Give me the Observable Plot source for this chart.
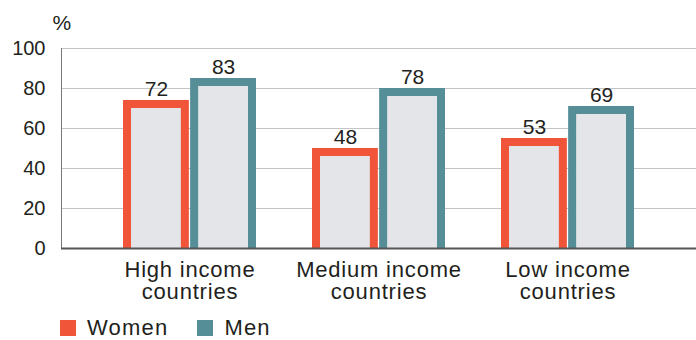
<!DOCTYPE html>
<html>
<head>
<meta charset="utf-8">
<script src="https://cdn.jsdelivr.net/npm/d3@7"></script>
<script src="https://cdn.jsdelivr.net/npm/@observablehq/plot@0.6"></script>
<style>
  body { margin: 0; background: #fff; font-family: "Liberation Sans", Arial, sans-serif; color: #231f20; }
  #legend { display: flex; align-items: center; height: 36px; margin-left: 60px; font-size: 22px; letter-spacing: 1.2px; }
  .sw { width: 16px; height: 16px; display: inline-block; margin-right: 11px; }
  .item { display: flex; align-items: center; margin-right: 29px; }
  .xlab text { letter-spacing: 0.8px; }
</style>
</head>
<body>
<div id="chart"></div>
<div id="legend"></div>
<script>
const countries = ["High income countries", "Medium income countries", "Low income countries"];
const tickLabels = ["High income\ncountries", "Medium income\ncountries", "Low income\ncountries"];
const sexes = ["Women", "Men"];
const women = [72, 48, 53];
const men = [83, 78, 69];
const yTicks = [0, 20, 40, 60, 80, 100];
const colors = {Women: "#f0553a", Men: "#558e96"};

const rowsW = countries.map((c, i) => ({country: c, sex: "Women", value: women[i]}));
const rowsM = countries.map((c, i) => ({country: c, sex: "Men", value: men[i]}));

const W = 696, H = 310, mL = 61, mR = 0, mT = 48, mB = 62;
const pIn = 0.296, pOut = 0.325;
const step = (W - mL - mR) / (countries.length - pIn + 2 * pOut);
const bw = step * (1 - pIn);
const sw = 8;
const half = bw / 2;
const inner = half + 0.5 + sw / 2;

const labelMap = new Map(countries.map((c, i) => [c, tickLabels[i]]));

const chart = Plot.plot({
  width: W, height: H,
  marginLeft: mL, marginRight: mR, marginTop: mT, marginBottom: mB,
  style: {fontFamily: "Liberation Sans, Arial, sans-serif", fontSize: "20px", color: "#231f20", background: "#fff"},
  x: {domain: countries, paddingInner: pIn, paddingOuter: pOut, label: null},
  y: {domain: [0, 100], label: null},
  marks: [
    Plot.gridY(yTicks, {stroke: "#c4c4c4", strokeOpacity: 1, strokeWidth: 1}),
    Plot.barY(rowsW, {x: "country", y: "value", fill: "#e4e5e8", stroke: colors.Women, strokeWidth: sw,
      insetLeft: sw / 2, insetRight: inner, insetBottom: -sw, clip: true}),
    Plot.barY(rowsM, {x: "country", y: "value", fill: "#e4e5e8", stroke: colors.Men, strokeWidth: sw,
      insetLeft: inner, insetRight: sw / 2, insetBottom: -sw, clip: true}),
    Plot.text(rowsW, {x: "country", y: "value", text: d => String(d.value), dx: -(half + 0.5) / 2, dy: -9,
      lineAnchor: "bottom", fill: "#231f20", fontSize: 21}),
    Plot.text(rowsM, {x: "country", y: "value", text: d => String(d.value), dx: (half + 0.5) / 2, dy: -9,
      lineAnchor: "bottom", fill: "#231f20", fontSize: 21}),
    Plot.axisY({ticks: yTicks, tickSize: 0, tickPadding: 16, label: null, fontSize: 20, fill: "#231f20"}),
    Plot.axisX({tickSize: 0, tickPadding: 12, label: null, fontSize: 22, lineHeight: 1.03, fill: "#231f20",
      className: "xlab", tickFormat: d => labelMap.get(d)}),
    Plot.frame({anchor: "left", stroke: "#777", strokeWidth: 1}),
    Plot.ruleY([0], {stroke: "#555", strokeWidth: 2}),
    Plot.text(["%"], {frameAnchor: "top-left", text: d => d, dx: -9, dy: -19, textAnchor: "start",
      lineAnchor: "bottom", fontSize: 21, fill: "#231f20"})
  ]
});
document.getElementById("chart").append(chart);

const legend = document.getElementById("legend");
sexes.forEach(s => {
  const it = document.createElement("div");
  it.className = "item";
  const sq = document.createElement("span");
  sq.className = "sw";
  sq.style.background = colors[s];
  const t = document.createElement("span");
  t.textContent = s;
  it.append(sq, t);
  legend.append(it);
});
</script>
</body>
</html>
